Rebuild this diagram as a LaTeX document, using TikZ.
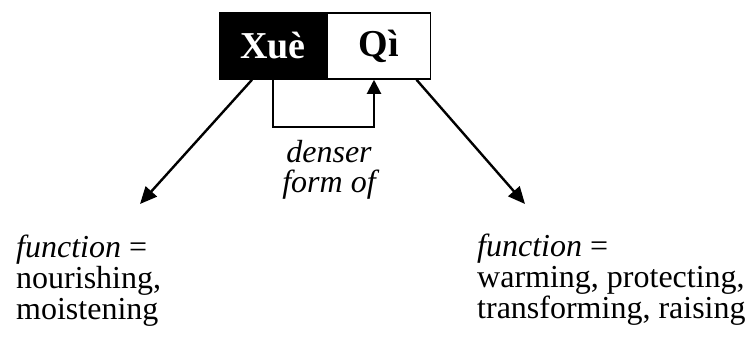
\documentclass[tikz,border=0pt]{standalone}
\usepackage{fontspec}
\setmainfont{Liberation Serif}
\usetikzlibrary{arrows.meta}

\begin{document}
\begin{tikzpicture}[
        x=1pt, y=-1pt,
        >={Triangle[length=17pt,width=15pt]},
        pointer/.style={->,line width=2.4pt},
        link/.style={->,line width=2pt,>={Triangle[length=14pt,width=14pt]}},
        cell/.style={draw,line width=1.5pt,minimum height=66pt,inner sep=0pt,
                font={\fontsize{38}{40}\selectfont\bfseries}},
        caption/.style={font={\fontsize{32}{31}\selectfont},align=left,inner sep=0pt}
    ]
    \useasboundingbox (0,0) rectangle (752,345);

    %the two boxes
    \node[cell,fill=black,text=white,minimum width=106pt] (xue) at (273,46) {Xuè};
    \node[cell,minimum width=103pt,anchor=west] (qi) at (xue.east) {Qì};

    %denser form of
    \draw[link] (xue.south) -- ++(0,47) -| ([xshift=-5pt]qi.south);
    \node[caption,align=center,anchor=north,font={\fontsize{32}{30}\selectfont\itshape}] (denser) at (329,140) {denser\\form of};

    %the two functions
    \coordinate (lefttip) at (140,204);
    \coordinate (righttip) at (525,204);
    \draw[pointer] ([xshift=-21pt]xue.south) -- (lefttip);
    \draw[pointer] ([xshift=37.5pt]qi.south) -- (righttip);

    \node[caption,anchor=north west] (xuefn) at (16,235) {\textit{function} =\\nourishing,\\moistening};
    \node[caption,anchor=north west] (qifn) at (477,234) {\textit{function} =\\warming, protecting,\\transforming, raising};
\end{tikzpicture}
\end{document}
